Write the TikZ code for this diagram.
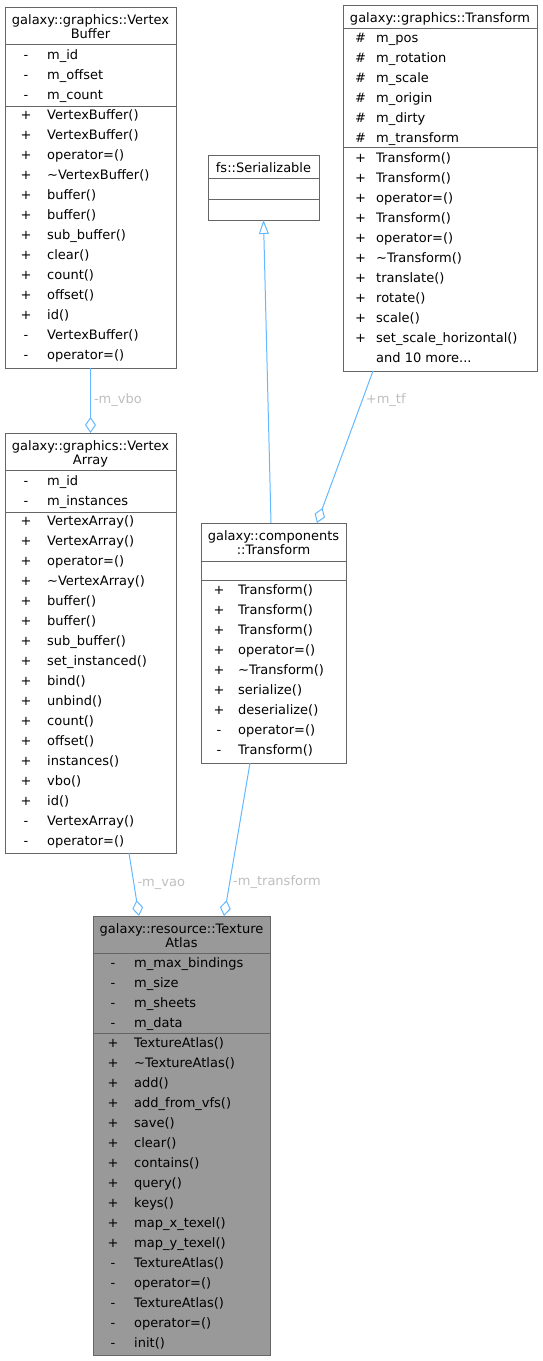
\documentclass[tikz,border=0pt]{standalone}
\usepackage{fontspec}
\setmainfont{DejaVu Sans}
\usetikzlibrary{arrows.meta}
\definecolor{edgeblue}{RGB}{99,184,255}
\definecolor{boxgray}{RGB}{102,102,102}
\definecolor{labelgray}{RGB}{190,190,190}
\definecolor{focusgray}{RGB}{153,153,153}
\tikzstyle{classbox} = [rectangle, draw=boxgray, line width=1pt, anchor=north west,
    inner sep=0pt, outer sep=0pt]
\tikzstyle{classtitle} = [anchor=north, align=center, inner sep=0pt,
    font=\fontsize{13}{14}\selectfont]
\tikzstyle{memberrow} = [inner sep=0pt, font=\fontsize{13}{14}\selectfont]
\tikzstyle{divider} = [draw=boxgray, line width=1pt]
\tikzstyle{aggr} = [draw=edgeblue, line width=1pt, -{Diamond[open, length=16pt, width=11pt]}]
\tikzstyle{inherit} = [draw=edgeblue, line width=1pt, -{Triangle[open, length=14pt, width=10pt]}]
\tikzstyle{elabel} = [text=labelgray, anchor=west, inner sep=3pt,
    font=\fontsize{13}{14}\selectfont]
% rows of one section: box, tag, mark x, text x, first baseline, list
\newcommand{\classrows}[6]{%
  \foreach \vis/\lbl [count=\i from 0] in {#6} {
    \node [memberrow, anchor=base] (#1-#2m\i)
      at ([xshift=#3, yshift={-(#5+20*\i)}]#1.north west) {\vis};
    \node [memberrow, anchor=base west] (#1-#2t\i)
      at ([xshift=#4, yshift={-(#5+20*\i)}]#1.north west) {\lbl};
  }}
\newcommand{\classdivider}[2]{%
  \path [divider] ([yshift=-#2]#1.north west) -- ([yshift=-#2]#1.north east);}

\begin{document}
\begin{tikzpicture}[x=1pt, y=-1pt]
  \useasboundingbox (0,0) rectangle (542,1361);
  % class boxes
  \node [classbox, minimum width=171, minimum height=361] (vbuf) at (5,7) {};
  \node [classbox, minimum width=171, minimum height=420] (varray) at (5,433) {};
  \node [classbox, minimum width=194, minimum height=366] (gtrans) at (343,5) {};
  \node [classbox, minimum width=111, minimum height=65] (ser) at (208,155) {};
  \node [classbox, minimum width=145, minimum height=240] (comp) at (201,523) {};
  \node [classbox, fill=focusgray, minimum width=177, minimum height=439] (atlas) at (93,916) {};
  % titles
  \node [classtitle] (vbuf-title) at ([yshift=-7]vbuf.north) {galaxy::graphics::Vertex\\Buffer};
  \node [classtitle] (varray-title) at ([yshift=-7]varray.north) {galaxy::graphics::Vertex\\Array};
  \node [classtitle] (gtrans-title) at ([yshift=-7]gtrans.north) {galaxy::graphics::Transform};
  \node [classtitle] (ser-title) at ([yshift=-7]ser.north) {fs::Serializable};
  \node [classtitle] (comp-title) at ([yshift=-7]comp.north) {galaxy::components\\::Transform};
  \node [classtitle] (atlas-title) at ([yshift=-7]atlas.north) {galaxy::resource::Texture\\Atlas};
  % section lines
  \classdivider{vbuf}{37} \classdivider{vbuf}{99}
  \classdivider{varray}{37} \classdivider{varray}{79}
  \classdivider{gtrans}{23} \classdivider{gtrans}{142}
  \classdivider{ser}{23} \classdivider{ser}{44}
  \classdivider{comp}{38} \classdivider{comp}{57}
  \classdivider{atlas}{37} \classdivider{atlas}{117}
  % members
  \classrows{vbuf}{a}{21}{42}{52}{-/m\_id, -/m\_offset, -/m\_count}
  \classrows{vbuf}{o}{21}{42}{112}{+/VertexBuffer(), +/VertexBuffer(), +/operator=(),
    +/\textasciitilde VertexBuffer(), +/buffer(), +/buffer(), +/sub\_buffer(), +/clear(),
    +/count(), +/offset(), +/id(), -/VertexBuffer(), -/operator=()}
  \classrows{varray}{a}{21}{42}{52}{-/m\_id, -/m\_instances}
  \classrows{varray}{o}{21}{42}{92}{+/VertexArray(), +/VertexArray(), +/operator=(),
    +/\textasciitilde VertexArray(), +/buffer(), +/buffer(), +/sub\_buffer(),
    +/set\_instanced(), +/bind(), +/unbind(), +/count(), +/offset(), +/instances(),
    +/vbo(), +/id(), -/VertexArray(), -/operator=()}
  \classrows{gtrans}{a}{17.5}{33}{37}{\#/m\_pos, \#/m\_rotation, \#/m\_scale,
    \#/m\_origin, \#/m\_dirty, \#/m\_transform}
  \classrows{gtrans}{o}{17.5}{33}{157}{+/Transform(), +/Transform(), +/operator=(),
    +/Transform(), +/operator=(), +/\textasciitilde Transform(), +/translate(),
    +/rotate(), +/scale(), +/set\_scale\_horizontal()}
  \node [memberrow, anchor=base west] (gtrans-more)
    at ([xshift=33, yshift=-357]gtrans.north west) {and 10 more...};
  \classrows{comp}{o}{18}{37}{71}{+/Transform(), +/Transform(), +/Transform(),
    +/operator=(), +/\textasciitilde Transform(), +/serialize(), +/deserialize(),
    -/operator=(), -/Transform()}
  \classrows{atlas}{a}{20}{41}{51}{-/m\_max\_bindings, -/m\_size, -/m\_sheets, -/m\_data}
  \classrows{atlas}{o}{20}{41}{131}{+/TextureAtlas(), +/\textasciitilde TextureAtlas(),
    +/add(), +/add\_from\_vfs(), +/save(), +/clear(), +/contains(), +/query(), +/keys(),
    +/map\_x\_texel(), +/map\_y\_texel(), -/TextureAtlas(), -/operator=(),
    -/TextureAtlas(), -/operator=(), -/init()}
  % relations
  \path [aggr] (vbuf.south) -- node [elabel] {-m\_vbo} (varray.north);
  \path [aggr] ([xshift=-67]gtrans.south) -- node [elabel, pos=0.19] {+m\_tf} ([xshift=43.5]comp.north);
  \path [inherit] ([xshift=-2.5]comp.north) -- (ser.south);
  \path [aggr] ([xshift=38.5]varray.south) -- node [elabel] {-m\_vao} ([xshift=-42.5]atlas.north);
  \path [aggr] ([xshift=-23.5]comp.south) -- node [elabel, pos=0.78] {-m\_transform} ([xshift=42.5]atlas.north);
\end{tikzpicture}
\end{document}
